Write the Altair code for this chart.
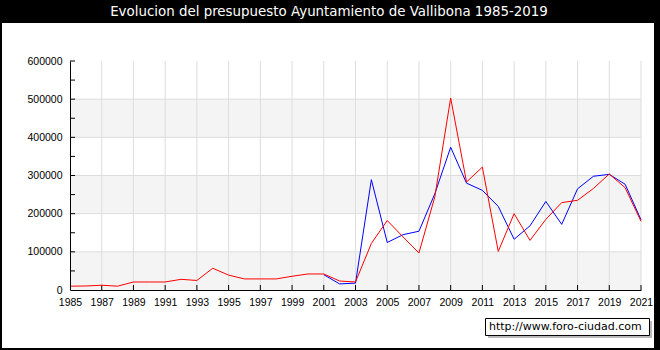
import altair as alt
import pandas as pd

# ---- data ----
years = list(range(1985, 2022))
ingresos = [10000, 10500, 12500, 10000, 21000, 21000, 21000, 28000, 25000, 57000,
            39000, 29000, 29000, 29000, 36000, 42000, 42000, 23500, 21000, 122000,
            182000, 139000, 97000, 244000, 503000, 283000, 322000, 101000, 200000, 130000,
            185000, 229000, 235000, 266000, 304000, 268000, 180000]
gasto_years = list(range(2001, 2022))
gastos = [40000, 16000, 18000, 289000, 124500, 145000, 154000, 252000, 374000, 280000,
          261000, 219000, 133000, 168000, 232000, 172000, 265000, 298000, 303000, 277000,
          184000]

x_ticks = list(range(1985, 2022, 2))
y_ticks = [0, 100000, 200000, 300000, 400000, 500000, 600000]
y_minor = list(range(50000, 600001, 50000))
grid_years = list(range(1987, 2022, 2))
grid_vals = [100000, 200000, 300000, 400000, 500000]
band_lo = [0, 200000, 400000]
band_hi = [100000, 300000, 500000]
title_text = "Evolucion del presupuesto Ayuntamiento de Vallibona 1985-2019"
watermark = "http://www.foro-ciudad.com"

W, H = 571, 229
LEFT, TOP = 70, 61

df_red = pd.DataFrame({"year": years, "v": ingresos})
df_blue = pd.DataFrame({"year": gasto_years, "v": gastos})
df_bands = pd.DataFrame({"lo": band_lo, "hi": band_hi})
df_gx = pd.DataFrame({"year": grid_years})
df_gy = pd.DataFrame({"v": grid_vals})
df_ty = pd.DataFrame({"v": y_minor})
df_tx = pd.DataFrame({"year": grid_years})
df_one = pd.DataFrame({"t": [title_text], "w": [watermark]})

xs = alt.Scale(domain=[1985, 2021], nice=False, zero=False)
ys = alt.Scale(domain=[0, 600000], nice=False)

lab = dict(labelFont="Liberation Sans", labelFontSize=10.5, labelColor="black",
           domainColor="black", domainWidth=1, ticks=False, grid=False,
           title=None, zindex=1)
xaxis = alt.Axis(values=x_ticks, format="d", labelPadding=7, labelFlush=False,
                 labelOverlap=False, **lab)
yaxis = alt.Axis(values=y_ticks, format="d", labelPadding=8, **lab)

X = lambda f: alt.X(f, scale=xs, axis=xaxis)
Y = lambda f: alt.Y(f, scale=ys, axis=yaxis)

frame = alt.Chart(df_one).mark_rect(color="white").encode(
    x=alt.value(2 - LEFT), x2=alt.value(654 - LEFT),
    y=alt.value(23 - TOP), y2=alt.value(348 - TOP))

bands = alt.Chart(df_bands).mark_rect(color="#f4f4f4").encode(
    y=Y("lo:Q"), y2="hi:Q", x=alt.value(0), x2=alt.value(W))

gridx = alt.Chart(df_gx).mark_rule(color="#dddddd", strokeWidth=1).encode(
    x=X("year:Q"), y=alt.value(0), y2=alt.value(H))
gridy = alt.Chart(df_gy).mark_rule(color="#dddddd", strokeWidth=1).encode(
    y=Y("v:Q"), x=alt.value(0), x2=alt.value(W))

ticky = alt.Chart(df_ty).mark_rule(color="black", strokeWidth=1).encode(
    y=Y("v:Q"), x=alt.value(0), x2=alt.value(5))
tickx = alt.Chart(df_tx).mark_rule(color="black", strokeWidth=1).encode(
    x=X("year:Q"), y=alt.value(H), y2=alt.value(H - 5))

blue = alt.Chart(df_blue).mark_line(color="#0000ff", strokeWidth=1).encode(
    x=X("year:Q"), y=Y("v:Q"))
red = alt.Chart(df_red).mark_line(color="#ff0000", strokeWidth=1).encode(
    x=X("year:Q"), y=Y("v:Q"))

title = alt.Chart(df_one).mark_text(color="white", font="DejaVu Sans", fontSize=13.4,
                                    align="center", baseline="middle").encode(
    x=alt.value(329 - LEFT), y=alt.value(12 - TOP), text="t:N")

shadow = alt.Chart(df_one).mark_rect(color="#bbbbbb").encode(
    x=alt.value(488 - LEFT), x2=alt.value(652 - LEFT),
    y=alt.value(321 - TOP), y2=alt.value(338 - TOP))
box = alt.Chart(df_one).mark_rect(fill="white", stroke="black", strokeWidth=1).encode(
    x=alt.value(485.5 - LEFT), x2=alt.value(649.5 - LEFT),
    y=alt.value(318.5 - TOP), y2=alt.value(335.5 - TOP))
wm = alt.Chart(df_one).mark_text(color="black", font="DejaVu Sans", fontSize=11,
                                 align="left", baseline="middle").encode(
    x=alt.value(489 - LEFT), y=alt.value(327 - TOP), text="w:N")

chart = alt.layer(frame, bands, gridx, gridy, ticky, tickx, blue, red,
                  title, shadow, box, wm).properties(
    width=W, height=H,
    autosize=alt.AutoSizeParams(type="none"),
    padding={"left": LEFT, "top": TOP, "right": 660 - LEFT - W, "bottom": 350 - TOP - H},
    background="black",
).configure_view(stroke=None, fill=None)

chart.save("out.html", embed_options={"renderer": "svg", "actions": False})
